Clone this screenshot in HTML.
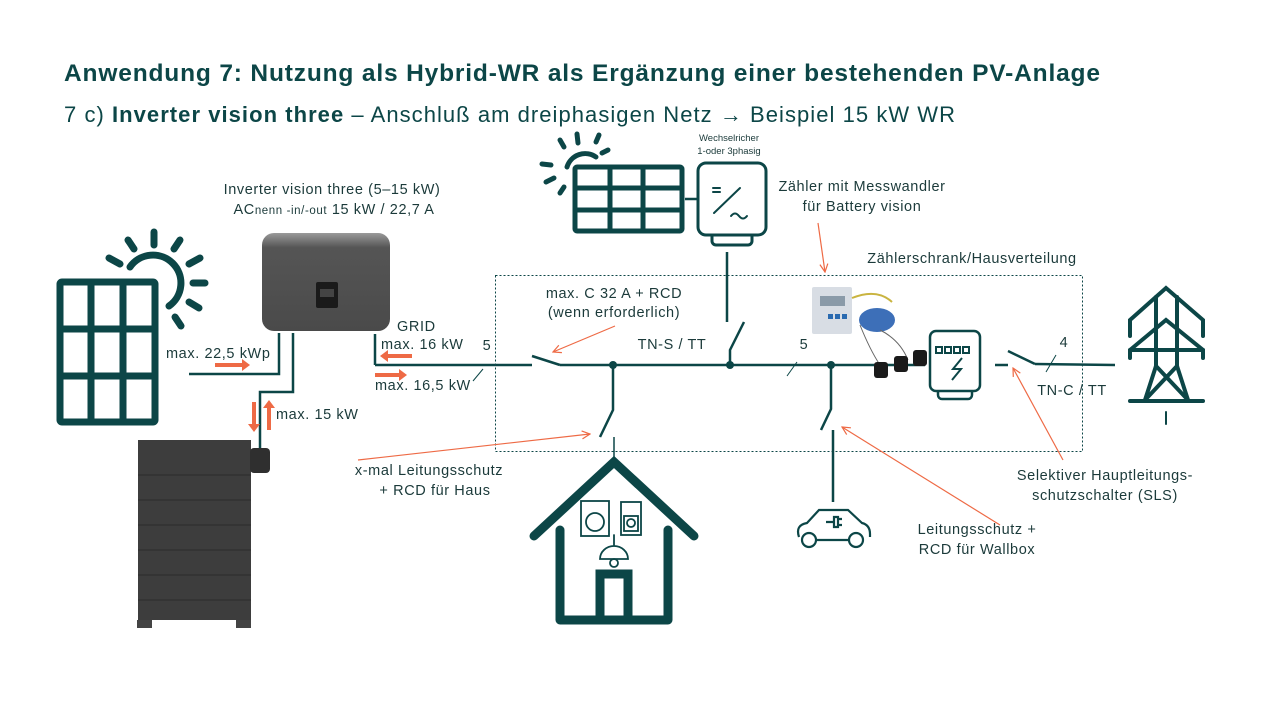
<!DOCTYPE html>
<html><head><meta charset="utf-8"><style>
body{margin:0;background:#fff;}
svg{display:block;font-family:"Liberation Sans",sans-serif;}
</style></head><body>
<svg width="1280" height="720" viewBox="0 0 1280 720" xmlns="http://www.w3.org/2000/svg">
<defs>
<marker id="ah" markerWidth="10" markerHeight="10" refX="9" refY="5" orient="auto" markerUnits="userSpaceOnUse"><path d="M1,1 L9,5 L1,9" fill="none" stroke="#ee6a45" stroke-width="1.2"/></marker>
<linearGradient id="ig" x1="0" y1="0" x2="0" y2="1"><stop offset="0" stop-color="#9a9a9a"/><stop offset="0.15" stop-color="#555"/><stop offset="1" stop-color="#4a4a4a"/></linearGradient>
</defs>
<g fill="#0c4647">
<text x="64" y="81" font-size="24.5" font-weight="bold" textLength="1036" lengthAdjust="spacing">Anwendung 7: Nutzung als Hybrid-WR als Ergänzung einer bestehenden PV-Anlage</text>
<text x="64" y="122" font-size="22" textLength="891" lengthAdjust="spacing">7 c) <tspan font-weight="bold">Inverter vision three</tspan> – Anschluß am dreiphasigen Netz → Beispiel 15 kW WR</text>
</g>
<g fill="#1b3a3a" font-size="14.5" letter-spacing="0.6">
<text x="332" y="194" text-anchor="middle">Inverter vision three (5–15 kW)</text>
<text x="334" y="214" text-anchor="middle">AC<tspan font-size="11.5">nenn -in/-out</tspan> 15 kW / 22,7 A</text>
<text x="729" y="141" text-anchor="middle" font-size="9.5" letter-spacing="0">Wechselricher</text>
<text x="729" y="154" text-anchor="middle" font-size="9.5" letter-spacing="0">1-oder 3phasig</text>
<text x="862" y="191" text-anchor="middle">Zähler mit Messwandler</text>
<text x="862" y="211" text-anchor="middle">für Battery vision</text>
<text x="972" y="263" text-anchor="middle">Zählerschrank/Hausverteilung</text>
<text x="614" y="298" text-anchor="middle">max. C 32 A + RCD</text>
<text x="614" y="317" text-anchor="middle">(wenn erforderlich)</text>
<text x="672" y="349" text-anchor="middle">TN-S / TT</text>
<text x="166" y="358">max. 22,5 kWp</text>
<text x="276" y="419">max. 15 kW</text>
<text x="397" y="331">GRID</text>
<text x="381" y="349">max. 16 kW</text>
<text x="375" y="390">max. 16,5 kW</text>
<text x="487" y="350" text-anchor="middle">5</text>
<text x="804" y="349" text-anchor="middle">5</text>
<text x="1064" y="347" text-anchor="middle">4</text>
<text x="1072" y="395" text-anchor="middle">TN-C / TT</text>
<text x="429" y="475" text-anchor="middle">x-mal Leitungsschutz</text>
<text x="435" y="495" text-anchor="middle">+ RCD für Haus</text>
<text x="977" y="534" text-anchor="middle">Leitungsschutz +</text>
<text x="977" y="554" text-anchor="middle">RCD für Wallbox</text>
<text x="1105" y="480" text-anchor="middle">Selektiver Hauptleitungs-</text>
<text x="1105" y="500" text-anchor="middle">schutzschalter (SLS)</text>
</g>
<rect x="495.5" y="275.5" width="587" height="176" fill="none" stroke="#0c4647" stroke-width="1" stroke-dasharray="2,2"/>
<g stroke="#0c4647" stroke-width="2.5" fill="none">
<line x1="375" y1="365" x2="532" y2="365"/>
<line x1="532" y1="356" x2="560" y2="365"/>
<line x1="560" y1="365" x2="925" y2="365"/>
<line x1="995" y1="365" x2="1008" y2="365"/>
<line x1="1008" y1="351" x2="1035" y2="364"/>
<line x1="1035" y1="364" x2="1115" y2="365"/>
<line x1="375" y1="334" x2="375" y2="365"/>
<polyline points="189,374 279,374 279,333"/>
<polyline points="293,333 293,392 260,392 260,450"/>
<line x1="685" y1="199" x2="697" y2="199"/>
<line x1="727" y1="252" x2="727" y2="322"/>
<polyline points="744,322 730,350 730,365"/>
<polyline points="613,365 613,410 600,437"/>
<line x1="614" y1="437" x2="614" y2="460" stroke-width="1.5"/>
<polyline points="831,365 831,409 821,430"/>
<line x1="833" y1="430" x2="833" y2="502"/>
</g>
<g fill="#0c4647"><circle cx="613" cy="365" r="4"/><circle cx="730" cy="365" r="4"/><circle cx="831" cy="365" r="4"/></g>
<g stroke="#0c4647" stroke-width="1"><line x1="473" y1="381" x2="483" y2="369"/><line x1="787" y1="376" x2="797" y2="362"/><line x1="1046" y1="372" x2="1056" y2="355"/></g>
<g fill="#ee6a45">
<rect x="215" y="363" width="27" height="4"/><path d="M242,359 L250,365 L242,371Z"/>
<rect x="388" y="354" width="24" height="4"/><path d="M388,350 L380,356 L388,362Z"/>
<rect x="375" y="373" width="24" height="4"/><path d="M399,369 L407,375 L399,381Z"/>
<rect x="252" y="402" width="4" height="22"/><path d="M248,424 L254,432 L260,424Z"/>
<rect x="267" y="408" width="4" height="22"/><path d="M263,408 L269,400 L275,408Z"/>
</g>
<g stroke="#ee6a45" stroke-width="1.2" fill="none">
<line x1="615" y1="326" x2="553" y2="352" marker-end="url(#ah)"/>
<line x1="358" y1="460" x2="590" y2="434" marker-end="url(#ah)"/>
<line x1="1000" y1="525" x2="842" y2="427" marker-end="url(#ah)"/>
<line x1="1063" y1="460" x2="1013" y2="368" marker-end="url(#ah)"/>
<line x1="818" y1="223" x2="825" y2="272" marker-end="url(#ah)"/>
</g>
<g stroke="#0c4647" stroke-width="7" fill="none" stroke-linecap="round">
<rect x="60" y="282" width="95" height="140" rx="2"/>
<line x1="91" y1="282" x2="91" y2="422"/><line x1="123" y1="282" x2="123" y2="422"/>
<line x1="60" y1="329" x2="155" y2="329"/><line x1="60" y1="376" x2="155" y2="376"/>
<path d="M130,267 A28,28 0 1 1 169,306"/>
<line x1="154" y1="232" x2="154" y2="245"/><line x1="128" y1="240" x2="134" y2="249"/><line x1="109" y1="258" x2="120" y2="264"/>
<line x1="180" y1="240" x2="174" y2="249"/><line x1="200" y1="258" x2="189" y2="264"/><line x1="205" y1="283" x2="193" y2="283"/>
<line x1="199" y1="308" x2="189" y2="302"/><line x1="181" y1="326" x2="175" y2="317"/>
</g>
<g stroke="#0c4647" stroke-width="5" fill="none" stroke-linecap="round">
<rect x="575" y="167" width="107" height="64" rx="2"/>
<line x1="610" y1="167" x2="610" y2="231"/><line x1="643" y1="167" x2="643" y2="231"/>
<line x1="575" y1="188" x2="682" y2="188"/><line x1="575" y1="210" x2="682" y2="210"/>
<path d="M567,167 A19,19 0 0 1 596,157"/>
<line x1="577" y1="134" x2="578" y2="143"/><line x1="560" y1="140" x2="564" y2="147"/><line x1="599" y1="135" x2="596" y2="142"/><line x1="608" y1="150" x2="602" y2="153"/><line x1="542" y1="164" x2="551" y2="165"/><line x1="546" y1="182" x2="554" y2="178"/><line x1="560" y1="193" x2="564" y2="187"/>
</g>
<g stroke="#0c4647" stroke-width="3" fill="none" stroke-linecap="round">
<rect x="698" y="163" width="68" height="72" rx="8"/>
<path d="M712,235 v6 a4,4 0 0 0 4,4 h32 a4,4 0 0 0 4,-4 v-6"/>
<line x1="713" y1="188" x2="720" y2="188" stroke-width="2"/><line x1="713" y1="192" x2="720" y2="192" stroke-width="2"/>
<line x1="714" y1="213" x2="740" y2="188" stroke-width="2"/>
<path d="M731,216 q4,-5 8,0 q4,5 8,0" stroke-width="2"/>
</g>
<rect x="262" y="233" width="128" height="98" rx="12" fill="url(#ig)"/>
<rect x="316" y="282" width="22" height="26" rx="2" fill="#1a1a1a"/>
<rect x="320" y="289" width="14" height="8" fill="#444"/>
<rect x="138" y="440" width="113" height="180" fill="#3d3d3d"/>
<rect x="250" y="448" width="20" height="25" rx="4" fill="#2f2f2f"/>
<g stroke="#2a2a2a" stroke-width="1"><line x1="138" y1="475" x2="251" y2="475"/><line x1="138" y1="500" x2="251" y2="500"/><line x1="138" y1="525" x2="251" y2="525"/><line x1="138" y1="550" x2="251" y2="550"/><line x1="138" y1="575" x2="251" y2="575"/><line x1="138" y1="600" x2="251" y2="600"/></g>
<rect x="137" y="620" width="15" height="8" fill="#444"/><rect x="236" y="620" width="15" height="8" fill="#444"/>
<rect x="812" y="287" width="40" height="47" rx="2" fill="#d8dde4"/>
<rect x="820" y="296" width="25" height="10" fill="#8a9aa8"/>
<g fill="#2a6ab0"><rect x="828" y="314" width="5" height="5"/><rect x="835" y="314" width="5" height="5"/><rect x="842" y="314" width="5" height="5"/></g>
<ellipse cx="877" cy="320" rx="18" ry="12" fill="#3d6fb8"/>
<path d="M852,298 q25,-10 40,4" stroke="#c9b440" stroke-width="2" fill="none"/>
<path d="M860,325 q10,25 20,40 M880,330 q20,10 28,30" stroke="#666" stroke-width="1" fill="none"/>
<g fill="#1a1a1a"><rect x="874" y="362" width="14" height="16" rx="3"/><rect x="894" y="356" width="14" height="16" rx="3"/><rect x="913" y="350" width="14" height="16" rx="3"/></g>
<g stroke="#0c4647" stroke-width="2.5" fill="none">
<rect x="930" y="331" width="50" height="60" rx="6"/>
<path d="M938,391 v4 a4,4 0 0 0 4,4 h26 a4,4 0 0 0 4,-4 v-4"/>
<path d="M962,358 l-9,11 h8 l-9,11" stroke-width="2"/>
</g>
<g fill="none" stroke="#0c4647" stroke-width="2"><rect x="936" y="347" width="6" height="6"/><rect x="945" y="347" width="6" height="6"/><rect x="954" y="347" width="6" height="6"/><rect x="963" y="347" width="6" height="6"/></g>
<g stroke="#0c4647" stroke-width="4" fill="none" stroke-linecap="round">
<polyline points="1130,336 1130,320 1166,288 1203,320 1203,336"/>
<polyline points="1130,358 1130,350 1166,320 1203,350 1203,358"/>
<line x1="1130" y1="350" x2="1203" y2="350"/>
<line x1="1156" y1="297" x2="1156" y2="366"/><line x1="1177" y1="297" x2="1177" y2="366"/>
<polyline points="1156,366 1145,400"/><polyline points="1177,366 1188,400"/>
<line x1="1156" y1="366" x2="1188" y2="400"/><line x1="1177" y1="366" x2="1145" y2="400"/>
<line x1="1130" y1="401" x2="1203" y2="401"/>
<line x1="1166" y1="412" x2="1166" y2="424" stroke-width="2"/>
</g>
<g stroke="#0c4647" stroke-linecap="round" fill="none">
<polyline points="534,536 614,462 694,536" stroke-width="9"/>
<polyline points="560,530 560,620 668,620 668,530" stroke-width="9" stroke-linejoin="round"/>
<rect x="600" y="574" width="28" height="46" stroke-width="9"/>
<g stroke-width="1.8"><rect x="581" y="501" width="28" height="35"/><circle cx="595" cy="522" r="9"/><rect x="621" y="502" width="20" height="33"/><rect x="624" y="516" width="14" height="15"/><circle cx="631" cy="523" r="4"/>
<line x1="614" y1="535" x2="614" y2="545"/><path d="M600,559 a14,13 0 0 1 28,0 z"/><circle cx="614" cy="563" r="4"/></g>
</g>
<g stroke="#0c4647" stroke-width="2.2" fill="none">
<path d="M799,537 q-4,-12 8,-14 l12,-13 h29 l14,13 q8,2 8,11 v3"/>
<circle cx="809" cy="540" r="7"/><circle cx="856" cy="540" r="7"/>
<line x1="816" y1="540" x2="849" y2="540"/>
<path d="M826,522 h8 M834,517 v10 h4 v-10 z M838,519 h4 M838,525 h4"/>
</g>
</svg>
</body></html>
